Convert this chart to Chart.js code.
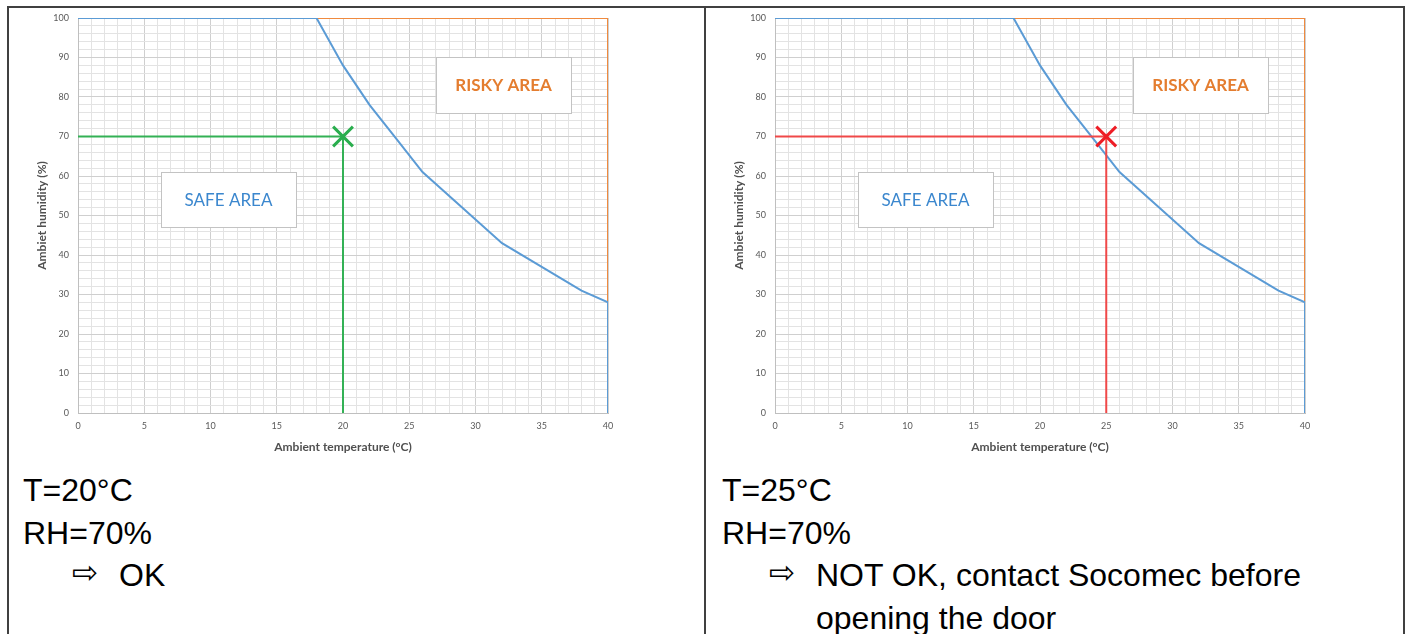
<!DOCTYPE html>
<html>
<head>
<meta charset="utf-8">
<title>Ambient temperature / humidity</title>
<script src="https://cdn.jsdelivr.net/npm/chart.js@4.4.1/dist/chart.umd.min.js"></script>
<style>
  html, body { margin: 0; padding: 0; background: #fff; }
  body { width: 1407px; height: 634px; position: relative; overflow: hidden;
         font-family: "Liberation Sans", Arial, sans-serif; color: #000; }
  .frame { position: absolute; left: 7px; top: 6px; width: 1394px; height: 700px;
           border: 2px solid #404040; }
  .divider { position: absolute; left: 704px; top: 6px; width: 2px; height: 640px; background: #404040; }
  canvas { position: absolute; top: 0; }
  .note { position: absolute; top: 469px; font-size: 32px; line-height: 42.5px; white-space: nowrap; }
  .note .row { position: relative; }
  .note .arrow { position: absolute; font-family: "DejaVu Sans", sans-serif; font-size: 31px; top: -3px; }
</style>
</head>
<body>
<div class="frame"></div>
<div class="divider"></div>
<canvas id="chartLeft" width="700" height="460" style="left:0px"></canvas>
<canvas id="chartRight" width="700" height="460" style="left:697px"></canvas>

<div class="note" style="left:23px">
  <div class="row">T=20°C</div>
  <div class="row">RH=70%</div>
  <div class="row"><span class="arrow" style="left:49px">⇨</span><span style="padding-left:96px">OK</span></div>
</div>
<div class="note" style="left:722px">
  <div class="row">T=25°C</div>
  <div class="row">RH=70%</div>
  <div class="row"><span class="arrow" style="left:47px">⇨</span><span style="padding-left:94px">NOT OK, contact Socomec before</span></div>
  <div class="row"><span style="padding-left:94px">opening the door</span></div>
</div>

<script>
// limit curve (safe / risky boundary)
const tempC = [0, 18, 20, 22, 24, 26, 32, 38, 40, 40];
const humidityLimit = [100, 100, 88, 78, 69.5, 61, 43, 31, 28, 0];

// orange outline of the risky area
const riskTempC = [18, 40, 40];
const riskHumidity = [100, 100, 28];

// the two checked situations
const caseTemp = [20, 25];
const caseHumidity = [70, 70];

// tick labels
const xTickLabels = [0, 5, 10, 15, 20, 25, 30, 35, 40];
const yTickLabels = [0, 10, 20, 30, 40, 50, 60, 70, 80, 90, 100];

const axisFont = 'Lato, "Open Sans", sans-serif';

function toPoints(xs, ys) {
    return xs.map((x, i) => ({ x: x, y: ys[i] }));
}

// draws the "SAFE AREA" / "RISKY AREA" boxes in data coordinates
const areaBoxes = {
    id: 'areaBoxes',
    afterDatasetsDraw(chart, args, opts) {
        const ctx = chart.ctx;
        const xs = chart.scales.x;
        const ys = chart.scales.y;
        (opts.boxes || []).forEach(b => {
            const left = Math.round(xs.getPixelForValue(b.x0));
            const right = Math.round(xs.getPixelForValue(b.x1));
            const top = Math.round(ys.getPixelForValue(b.y1));
            const bottom = Math.round(ys.getPixelForValue(b.y0));
            ctx.save();
            ctx.fillStyle = '#ffffff';
            ctx.fillRect(left, top, right - left, bottom - top);
            ctx.strokeStyle = '#c3c3c3';
            ctx.lineWidth = 1;
            ctx.strokeRect(left + 0.5, top + 0.5, right - left, bottom - top);
            ctx.fillStyle = b.color;
            ctx.font = (b.bold ? 'bold ' : '') + '17px ' + axisFont;
            ctx.textAlign = 'center';
            ctx.textBaseline = 'middle';
            ctx.fillText(b.text, (left + right) / 2, (top + bottom) / 2 + 1);
            ctx.restore();
        });
    }
};

function makeChart(canvasId, idx, caseColor, markColor) {
    const t = caseTemp[idx];
    const rh = caseHumidity[idx];

    new Chart(document.getElementById(canvasId), {
        type: 'scatter',
        data: {
            datasets: [{
                // check point marker
                data: [{ x: t, y: rh }],
                pointStyle: 'crossRot',
                pointRadius: 14,
                pointBorderWidth: 3,
                pointBorderColor: markColor,
                pointBackgroundColor: markColor,
                showLine: false
            }, {
                // guide lines to the axes
                data: [{ x: 0, y: rh }, { x: t, y: rh }, { x: t, y: 0 }],
                showLine: true,
                borderColor: caseColor,
                borderWidth: 2,
                pointRadius: 0,
                tension: 0
            }, {
                data: toPoints(tempC, humidityLimit),
                showLine: true,
                borderColor: '#5B9BD5',
                borderWidth: 2,
                pointRadius: 0,
                tension: 0
            }, {
                data: toPoints(riskTempC, riskHumidity),
                showLine: true,
                borderColor: '#F08A3E',
                borderWidth: 2,
                pointRadius: 0,
                tension: 0
            }]
        },
        options: {
            responsive: false,
            animation: false,
            devicePixelRatio: 1,
            layout: { padding: { left: 0, top: 18, right: 92, bottom: 0 } },
            plugins: {
                legend: { display: false },
                tooltip: { enabled: false },
                areaBoxes: {
                    boxes: [
                        { x0: 6.25, x1: 16.45, y0: 47, y1: 61, text: 'SAFE AREA', color: '#3B87CE', bold: false },
                        { x0: 27.0, x1: 37.2, y0: 76, y1: 90, text: 'RISKY AREA', color: '#E47D2F', bold: true }
                    ]
                }
            },
            scales: {
                x: {
                    type: 'linear',
                    min: 0,
                    max: 40,
                    afterFit: scale => { scale.height = 47; },
                    border: { color: '#bfbfbf', width: 1 },
                    grid: {
                        drawTicks: false,
                        color: c => (c.tick && c.tick.value % 5 === 0) ? '#cfcfcf' : '#e3e3e3',
                        lineWidth: 1
                    },
                    ticks: {
                        stepSize: 1,
                        autoSkip: false,
                        maxRotation: 0,
                        padding: 8,
                        color: '#595959',
                        font: { family: axisFont, size: 9 },
                        callback: v => xTickLabels.includes(v) ? String(v) : ''
                    },
                    title: {
                        display: true,
                        text: 'Ambient temperature (°C)',
                        color: '#505050',
                        font: { family: axisFont, size: 12, weight: 'bold' },
                        padding: { top: 0, bottom: 6 }
                    }
                },
                y: {
                    type: 'linear',
                    min: 0,
                    max: 100,
                    afterFit: scale => { scale.width = 78; },
                    border: { color: '#bfbfbf', width: 1 },
                    grid: {
                        drawTicks: false,
                        color: c => (c.tick && c.tick.value % 10 === 0) ? '#cfcfcf' : '#e3e3e3',
                        lineWidth: 1
                    },
                    ticks: {
                        stepSize: 2,
                        autoSkip: false,
                        padding: 9,
                        color: '#595959',
                        font: { family: axisFont, size: 9 },
                        callback: v => yTickLabels.includes(v) ? String(v) : ''
                    },
                    title: {
                        display: true,
                        text: 'Ambiet humidity (%)',
                        color: '#505050',
                        font: { family: axisFont, size: 12, weight: 'bold' },
                        padding: { top: 35, bottom: 0 }
                    }
                }
            }
        },
        plugins: [areaBoxes]
    });
}

makeChart('chartLeft', 0, '#33B155', '#2AAE4E');
makeChart('chartRight', 1, '#F04848', '#EE1C25');
</script>
</body>
</html>
